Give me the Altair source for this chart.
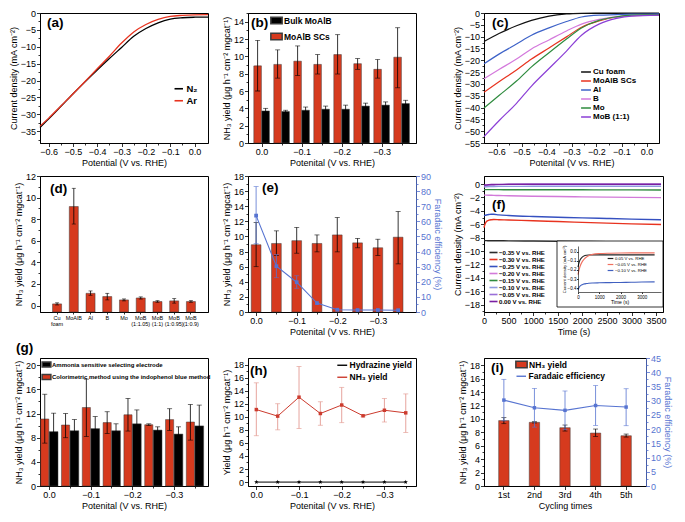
import altair as alt
import pandas as pd

FONT = "Liberation Sans"
RED = "#d63a1e"
EDGE = "#3c3c3c"
BLUE = "#5774d1"
RECT = "M-1.6,-0.9H1.6V0.9H-1.6Z"
LINE = "M-1.8,0H1.8"
STAR = "M0,-1L0.22,-0.31L0.95,-0.31L0.36,0.12L0.59,0.81L0,0.38L-0.59,0.81L-0.36,0.12L-0.95,-0.31L-0.22,-0.31Z"

# ---------------- (a) LSV in N2 / Ar ----------------
a_pot = [-0.635, -0.6, -0.55, -0.5, -0.45, -0.4, -0.35, -0.3, -0.25, -0.2, -0.15, -0.1, -0.05, 0.0, 0.055]
a_n2 = [-33.9, -31.4, -27.7, -24.0, -20.4, -16.9, -13.5, -10.2, -6.9, -4.6, -2.9, -1.8, -1.4, -1.25, -1.2]
a_ar = [-33.5, -31.2, -27.6, -24.0, -20.3, -16.5, -12.8, -8.9, -5.6, -3.4, -1.9, -1.0, -0.7, -0.55, -0.5]
a_series = ["N₂", "Ar"]

# ---------------- (c) LSV of samples ----------------
c_pot = [-0.65, -0.59, -0.52, -0.46, -0.39, -0.32, -0.26, -0.19, -0.12, -0.06, 0.05]
c_names = ["Cu foam", "MoAlB SCs", "Al", "B", "Mo", "MoB (1:1)"]
c_cu = [-12.1, -8.7, -5.4, -3.1, -1.3, -0.4, -0.15, -0.08, -0.05, -0.04, -0.03]
c_moalb = [-33.5, -29.1, -24.1, -19.5, -14.8, -10.1, -6.0, -3.4, -1.7, -1.1, -0.9]
c_al = [-21.5, -17.4, -13.1, -9.4, -6.3, -3.6, -1.7, -0.9, -0.7, -0.5, -0.4]
c_b = [-27.8, -23.9, -19.5, -15.2, -11.4, -7.6, -4.7, -2.7, -1.6, -1.1, -0.7]
c_mo = [-40.2, -34.9, -28.8, -22.8, -16.8, -11.0, -6.3, -3.1, -1.6, -0.9, -0.7]
c_mob = [-52.3, -45.6, -38.2, -30.9, -23.5, -16.1, -9.4, -4.7, -2.3, -1.3, -0.9]
c_colors = ["#111111", "#e8331f", "#3e63c8", "#d479dc", "#2e8b3e", "#8b3fd6"]

# ---------------- (b)/(e) NH3 yield vs potential ----------------
pots = [0.0, -0.05, -0.1, -0.15, -0.2, -0.25, -0.3, -0.35]
scs_mean = [8.9, 9.07, 9.44, 9.07, 10.2, 9.15, 8.5, 9.9]
scs_lo = [6.0, 7.48, 7.78, 7.96, 7.96, 8.5, 7.48, 6.37]
scs_hi = [11.85, 10.74, 11.2, 10.2, 12.5, 9.74, 9.63, 13.3]
bulk_mean = [3.7, 3.63, 3.78, 3.9, 3.9, 4.26, 4.37, 4.55]
bulk_lo = [3.4, 3.48, 3.41, 3.54, 3.43, 3.92, 4.0, 4.17]
bulk_hi = [4.0, 3.78, 4.15, 4.26, 4.37, 4.6, 4.74, 4.93]
b_series = ["Bulk MoAlB", "MoAlB SCs"]
fe_mean = [63.8, 30.3, 19.7, 5.9, 1.5, 1.3, 1.3, 1.2]
fe_lo = [45.2, 22.7, 15.7, 5.9, 1.5, 1.3, 1.3, 1.2]
fe_hi = [83.0, 38.0, 24.0, 5.9, 1.5, 1.3, 1.3, 1.2]

# ---------------- (d) control samples ----------------
d_cats = ["Cu foam", "MoAlB", "Al", "B", "Mo", "MoB (1:1.05)", "MoB (1:1)", "MoB (1:0.95)", "MoB (1:0.9)"]
d_mean = [0.15, 9.17, 1.13, 0.83, 0.52, 0.7, 0.37, 0.43, 0.37]
d_lo = [0.05, 7.55, 0.95, 0.52, 0.43, 0.6, 0.3, 0.22, 0.3]
d_hi = [0.25, 10.86, 1.35, 1.13, 0.61, 0.8, 0.45, 0.64, 0.45]

# ---------------- (f) chronoamperometry ----------------
f_t = [0, 20, 50, 100, 150, 200, 300, 500, 1000, 1500, 2000, 2500, 3000, 3600]
f_names = ["−0.35 V vs. RHE", "−0.30 V vs. RHE", "−0.25 V vs. RHE", "−0.20 V vs. RHE",
           "−0.15 V vs. RHE", "−0.10 V vs. RHE", "−0.05 V vs. RHE", "0.00 V vs. RHE"]
f_035 = [-8.45, -8.45, -8.45, -8.46, -8.46, -8.46, -8.47, -8.48, -8.51, -8.54, -8.57, -8.6, -8.62, -8.66]
f_030 = [-6.5, -6.0, -5.6, -5.4, -5.33, -5.3, -5.32, -5.37, -5.47, -5.6, -5.72, -5.84, -5.94, -6.05]
f_025 = [-4.72, -4.68, -4.62, -4.55, -4.5, -4.52, -4.6, -4.7, -4.85, -4.95, -5.05, -5.14, -5.23, -5.33]
f_020 = [-1.65, -1.65, -1.66, -1.67, -1.68, -1.69, -1.71, -1.75, -1.82, -1.87, -1.91, -1.95, -1.99, -2.03]
f_015 = [-0.84, -0.84, -0.84, -0.84, -0.84, -0.84, -0.84, -0.85, -0.85, -0.86, -0.86, -0.87, -0.87, -0.88]
f_010 = [-0.45, -0.42, -0.4, -0.38, -0.37, -0.36, -0.35, -0.35, -0.34, -0.34, -0.34, -0.33, -0.33, -0.33]
f_005 = [-0.25, -0.23, -0.2, -0.16, -0.13, -0.11, -0.08, -0.05, -0.03, -0.02, -0.02, -0.02, -0.02, -0.02]
f_000 = [-0.17, -0.15, -0.12, -0.09, -0.07, -0.06, -0.05, -0.04, -0.04, -0.04, -0.04, -0.04, -0.04, -0.04]
f_colors = ["#2b2b2b", "#e8331f", "#3550c0", "#d27ad9", "#2e8b3e", "#8f9be0", "#9a6fd8", "#7b1fa2"]
# inset
in_t = [0, 50, 100, 200, 300, 400, 500, 700, 1000, 1500, 2000, 2500, 3000, 3600]
in_names = ["0.05 V vs. RHE", "−0.05 V vs. RHE", "−0.10 V vs. RHE"]
in_p005 = [-0.17, -0.12, -0.09, -0.06, -0.045, -0.04, -0.038, -0.037, -0.037, -0.037, -0.037, -0.037, -0.037, -0.037]
in_m005 = [-0.25, -0.2, -0.16, -0.11, -0.08, -0.06, -0.045, -0.03, -0.022, -0.018, -0.016, -0.015, -0.015, -0.015]
in_m010 = [-0.42, -0.39, -0.375, -0.36, -0.352, -0.348, -0.345, -0.342, -0.34, -0.338, -0.336, -0.334, -0.332, -0.33]
in_colors = ["#222222", "#f07060", "#4060c0"]

# ---------------- (g)/(h) two detection methods ----------------
col_mean = [11.1, 10.1, 13.0, 10.5, 11.8, 10.15, 11.0, 10.6]
col_lo = [7.1, 8.0, 8.2, 8.7, 9.1, 10.0, 9.2, 7.6]
col_hi = [15.2, 12.0, 17.7, 12.3, 14.5, 10.3, 12.8, 13.5]
ise_mean = [9.0, 9.15, 9.5, 9.15, 10.3, 9.26, 8.6, 9.95]
ise_lo = [5.94, 7.3, 7.5, 8.0, 8.0, 8.72, 7.4, 6.5]
ise_hi = [12.06, 11.0, 11.5, 10.3, 12.6, 9.8, 9.8, 13.4]
g_series = ["Ammonia sensitive selecting electrode", "Colorimetric method using the indophenol blue method"]
hyd_mean = [0.0, 0.0, 0.0, 0.0, 0.0, 0.0, 0.0, 0.0]
h_series = ["Hydrazine yield", "NH₃ yield"]

# ---------------- (i) cycling ----------------
i_cycles = ["1st", "2nd", "3rd", "4th", "5th"]
i_mean = [9.76, 9.5, 8.7, 7.9, 7.5]
i_lo = [9.3, 9.4, 8.2, 7.4, 7.3]
i_hi = [10.2, 9.6, 9.1, 8.5, 7.75]
i_fe = [30.2, 27.5, 26.6, 28.3, 27.75]
i_fe_lo = [22.9, 20.7, 19.8, 21.3, 21.2]
i_fe_hi = [37.5, 34.3, 33.4, 35.3, 34.2]
i_series = ["NH₃ yield", "Faradaic efficiency"]

# tick value lists
pot_full = [-0.6, -0.55, -0.5, -0.45, -0.4, -0.35, -0.3, -0.25, -0.2, -0.15, -0.1, -0.05, 0.0]
pot_ticks = [0.0, -0.05, -0.1, -0.15, -0.2, -0.25, -0.3, -0.35]

W1, W2, WC, WF, WI = 168, 168, 175, 179, 162
H1, H2, H3 = 130, 136, 128

YT = "NH₃ yield (μg h⁻¹ cm⁻² mgcat⁻¹)"
XT = "Potenital (V vs. RHE)"


def major(step):
    return f"abs(datum.value / {step} - round(datum.value / {step})) < 0.001"


def axis(title, values, step, fmt="d", **kw):
    t = major(step)
    d = dict(title=title, values=values, labelExpr=f"({t}) ? datum.label : ''",
             tickSize={"condition": {"test": t, "value": 3.5}, "value": 2},
             labelOverlap=False, format=fmt)
    d.update(kw)
    return alt.Axis(**d)


def qscale(lo, hi, reverse=False, **kw):
    if reverse:
        return alt.Scale(domain=[lo, hi], nice=False, zero=False, reverse=True, **kw)
    return alt.Scale(domain=[lo, hi], nice=False, zero=False, **kw)


def plabel(txt, x, y, size=13.5):
    return alt.Chart(pd.DataFrame({"t": [txt]})).mark_text(
        align="left", baseline="top", font=FONT, fontSize=size, fontWeight="bold", color="black"
    ).encode(text="t:N", x=alt.value(x), y=alt.value(y))


def lg(x, y, **kw):
    d = dict(title=None, orient="none", legendX=x, legendY=y, labelFontWeight="bold",
             labelFont=FONT, labelFontSize=8.5, rowPadding=1.5, labelColor="black", labelLimit=300,
             labelOffset=3)
    d.update(kw)
    return alt.Legend(**d)


# ============ (a) ============
n = len(a_pot)
df_a = pd.DataFrame({"p": a_pot + a_pot, "j": a_n2 + a_ar, "s": [a_series[0]] * n + [a_series[1]] * n})
pa = alt.layer(
    alt.Chart(df_a).mark_line(strokeWidth=1.3, interpolate="monotone").encode(
        x=alt.X("p:Q", scale=qscale(-0.635, 0.055), axis=axis("Potential (V vs. RHE)", pot_full, 0.1, ".1f")),
        y=alt.Y("j:Q", scale=qscale(-38.5, 0), axis=axis("Current density (mA cm⁻²)", [-2.5 * k for k in range(0, 16)], 5)),
        color=alt.Color("s:N", scale=alt.Scale(domain=a_series, range=["#000000", "#e8331f"]),
                        legend=lg(134, 71, symbolType=LINE, symbolSize=22, symbolStrokeWidth=1.6,
                                  labelFontSize=9.5, rowPadding=1)),
    ),
    plabel("(a)", 7, 3),
).properties(width=W1, height=H1)

# ============ (b) ============
df_b = pd.DataFrame({"p": pots + pots, "s": ["MoAlB SCs"] * 8 + ["Bulk MoAlB"] * 8,
                     "v": scs_mean + bulk_mean, "lo": scs_lo + bulk_lo, "hi": scs_hi + bulk_hi})
sx_b = qscale(-0.386, 0.034, reverse=True)
sy_b = qscale(0, 15)
ax_b = axis(XT, pot_ticks, 0.1, ".1f")
ay_b = axis(YT, list(range(0, 16)), 2)
base_b = alt.Chart(df_b).transform_calculate(
    x1="datum.p + (datum.s == 'MoAlB SCs' ? 0.0195 : -0.0005)",
    x2="datum.p + (datum.s == 'MoAlB SCs' ? 0.0005 : -0.0195)",
    xc="datum.p + (datum.s == 'MoAlB SCs' ? 0.01 : -0.01)",
)
Xb = lambda f: alt.X(f, scale=sx_b, axis=ax_b)
Yb = lambda f: alt.Y(f, scale=sy_b, axis=ay_b)
pb = alt.layer(
    base_b.mark_bar(stroke=EDGE, strokeWidth=0.5).encode(
        x=Xb("x1:Q"), x2="x2:Q", y=Yb("v:Q"), y2=alt.datum(0),
        fill=alt.Fill("s:N", scale=alt.Scale(domain=b_series, range=["#000000", RED]),
                      legend=lg(24, 3, symbolType=RECT, symbolSize=50, rowPadding=3)),
    ),
    base_b.mark_rule(color="black", strokeWidth=0.8).encode(x=Xb("xc:Q"), y=Yb("lo:Q"), y2="hi:Q"),
    base_b.mark_tick(orient="horizontal", size=5, thickness=0.8, color="black").encode(x=Xb("xc:Q"), y=Yb("hi:Q")),
    base_b.mark_tick(orient="horizontal", size=5, thickness=0.8, color="black").encode(x=Xb("xc:Q"), y=Yb("lo:Q")),
    plabel("(b)", 3, 3),
).properties(width=W2, height=H1)

# ============ (c) ============
m = len(c_pot)
c_all = [c_cu, c_moalb, c_al, c_b, c_mo, c_mob]
df_c = pd.DataFrame({"p": c_pot * 6, "j": sum(c_all, []), "s": sum([[nm] * m for nm in c_names], [])})
pc = alt.layer(
    alt.Chart(df_c).mark_line(strokeWidth=1.2, interpolate="monotone").encode(
        x=alt.X("p:Q", scale=qscale(-0.65, 0.05), axis=axis(XT, pot_full, 0.1, ".1f")),
        y=alt.Y("j:Q", scale=qscale(-55, 0), axis=axis("Current density (mA cm⁻²)", [-2.5 * k for k in range(0, 23)], 5)),
        color=alt.Color("s:N", scale=alt.Scale(domain=c_names, range=c_colors),
                        legend=lg(98, 55, symbolType=LINE, symbolSize=30, symbolStrokeWidth=1.5,
                                  labelFontSize=8, rowPadding=1)),
    ),
    plabel("(c)", 8, 3),
).properties(width=WC, height=H1)

# ============ (d) ============
df_d = pd.DataFrame({"c": d_cats, "v": d_mean, "lo": d_lo, "hi": d_hi})
sy_d = qscale(-0.6, 12)
ay_d = axis(YT, [k * 0.5 for k in range(0, 25)], 2)
xd = alt.X("c:N", sort=d_cats, scale=alt.Scale(paddingInner=0.46, paddingOuter=0.75),
           axis=alt.Axis(title=None, labelAngle=0, labelFontSize=5.5, labelExpr="split(datum.label, ' ')",
                         labelLineHeight=6.5, tickSize=2, labelPadding=1))
Yd = lambda f: alt.Y(f, scale=sy_d, axis=ay_d)
base_d = alt.Chart(df_d)
pdd = alt.layer(
    base_d.mark_bar(fill=RED, stroke=EDGE, strokeWidth=0.5).encode(x=xd, y=Yd("v:Q"), y2=alt.datum(-0.6)),
    base_d.mark_rule(color="black", strokeWidth=0.8).encode(x=xd, y=Yd("lo:Q"), y2="hi:Q"),
    base_d.mark_tick(orient="horizontal", size=4, thickness=0.8, color="black").encode(x=xd, y=Yd("hi:Q")),
    base_d.mark_tick(orient="horizontal", size=4, thickness=0.8, color="black").encode(x=xd, y=Yd("lo:Q")),
    plabel("(d)", 10, 6),
).properties(width=W1, height=H2)

# ============ (e) ============
df_e = pd.DataFrame({"p": pots, "v": scs_mean, "lo": scs_lo, "hi": scs_hi,
                     "fe": fe_mean, "fe_lo": fe_lo, "fe_hi": fe_hi})
sx_e = qscale(-0.394, 0.02, reverse=True)
ax_e = axis(XT, pot_ticks, 0.1, ".1f")
sy_e = qscale(0, 18)
ay_e = axis(YT, list(range(0, 19)), 2)
sy_e2 = qscale(0, 90)
ay_e2 = axis("Faradaic efficiency (%)", list(range(0, 91, 5)), 10, orient="right", titleColor=BLUE,
             labelColor=BLUE, tickColor=BLUE, domainColor=BLUE)
base_e = alt.Chart(df_e).transform_calculate(x1="datum.p + 0.012", x2="datum.p - 0.012")
Xe = lambda f: alt.X(f, scale=sx_e, axis=ax_e)
Ye = lambda f: alt.Y(f, scale=sy_e, axis=ay_e)
Ye2 = lambda f: alt.Y(f, scale=sy_e2, axis=ay_e2)
left_e = alt.layer(
    base_e.mark_bar(fill=RED, stroke=EDGE, strokeWidth=0.5).encode(x=Xe("x1:Q"), x2="x2:Q", y=Ye("v:Q"), y2=alt.datum(0)),
    base_e.mark_rule(color="black", strokeWidth=0.8).encode(x=Xe("p:Q"), y=Ye("lo:Q"), y2="hi:Q"),
    base_e.mark_tick(orient="horizontal", size=5, thickness=0.8, color="black").encode(x=Xe("p:Q"), y=Ye("hi:Q")),
    base_e.mark_tick(orient="horizontal", size=5, thickness=0.8, color="black").encode(x=Xe("p:Q"), y=Ye("lo:Q")),
)
base_e2 = alt.Chart(df_e)
right_e = alt.layer(
    base_e2.transform_filter("datum.fe_hi > datum.fe_lo").mark_rule(color=BLUE, strokeWidth=0.8).encode(
        x=Xe("p:Q"), y=Ye2("fe_lo:Q"), y2="fe_hi:Q"),
    base_e2.transform_filter("datum.fe_hi > datum.fe_lo").mark_tick(orient="horizontal", size=5, thickness=0.8, color=BLUE).encode(
        x=Xe("p:Q"), y=Ye2("fe_hi:Q")),
    base_e2.transform_filter("datum.fe_hi > datum.fe_lo").mark_tick(orient="horizontal", size=5, thickness=0.8, color=BLUE).encode(
        x=Xe("p:Q"), y=Ye2("fe_lo:Q")),
    base_e2.mark_line(color=BLUE, strokeWidth=1.1).encode(x=Xe("p:Q"), y=Ye2("fe:Q")),
    base_e2.mark_point(shape="square", filled=True, size=14, color=BLUE, opacity=1).encode(x=Xe("p:Q"), y=Ye2("fe:Q")),
)
pe = alt.layer(left_e, right_e, plabel("(e)", 14, 5)).resolve_scale(y="independent").properties(width=W2, height=H2)

# ============ (f) ============
k = len(f_t)
f_all = [f_035, f_030, f_025, f_020, f_015, f_010, f_005, f_000]
df_f = pd.DataFrame({"t": f_t * 8, "j": sum(f_all, []), "s": sum([[nm] * k for nm in f_names], [])})
ki = len(in_t)
in_all = [in_p005, in_m005, in_m010]
df_in = pd.DataFrame({"t": in_t * 3, "j": sum(in_all, []), "s": sum([[nm] * ki for nm in in_names], [])})

main_f = alt.Chart(df_f).mark_line(strokeWidth=1.4, interpolate="monotone").encode(
    x=alt.X("t:Q", scale=qscale(0, 3640), axis=axis("Time (s)", list(range(0, 3501, 250)), 500)),
    y=alt.Y("j:Q", scale=qscale(-19.1, 1.2), axis=axis("Current density (mA cm⁻²)", list(range(0, -20, -1)), 2)),
    color=alt.Color("s:N", scale=alt.Scale(domain=f_names, range=f_colors),
                    legend=lg(6, 73, symbolType=LINE, symbolSize=20, symbolStrokeWidth=1.6,
                              labelFontSize=6.1, rowPadding=0, labelOffset=2)),
)
ix0, ix1 = 94, 177
iy0, iy1 = 116, 70
box_f = alt.Chart(pd.DataFrame({"b": [1]})).mark_rect(fill="white", stroke="black", strokeWidth=0.8).encode(
    x=alt.value(73), x2=alt.value(WF), y=alt.value(65), y2=alt.value(131))
inset_f = alt.Chart(df_in).mark_line(strokeWidth=1.1, interpolate="monotone").encode(
    x=alt.X("t:Q", scale=alt.Scale(domain=[0, 3900], range=[ix0, ix1], nice=False, zero=False),
            axis=alt.Axis(orient="bottom", offset=iy0 - H2, values=[0, 1000, 2000, 3000], format="d",
                          title="Time (s)", labelFontSize=4.5, titleFontSize=5, tickSize=1.5, labelPadding=0.5,
                          titlePadding=0.5, zindex=1, labelFlush=False, labelOverlap=False, domainWidth=0.6)),
    y=alt.Y("j:Q", scale=alt.Scale(domain=[-0.44, 0.06], range=[iy0, iy1], nice=False, zero=False),
            axis=alt.Axis(orient="left", offset=-ix0, values=[0.0, -0.1, -0.2, -0.3, -0.4], format=".1f",
                          title="Current density (mA cm⁻²)", labelFontSize=4.5, titleFontSize=4.2, tickSize=1.5,
                          labelPadding=0.5, titlePadding=0.5, zindex=1, domainWidth=0.6)),
    stroke=alt.Stroke("s:N", scale=alt.Scale(domain=in_names, range=in_colors),
                      legend=lg(124, 80, symbolType=LINE, symbolSize=10, symbolStrokeWidth=1.2,
                                labelFontSize=4.3, rowPadding=1, labelFontWeight="normal", labelOffset=2)),
)
pf = alt.layer(main_f, box_f, inset_f, plabel("(f)", 8, 22)).resolve_scale(
    x="independent", y="independent").properties(width=WF, height=H2)

# ============ (g) ============
df_g = pd.DataFrame({"p": pots + pots, "s": [g_series[1]] * 8 + [g_series[0]] * 8,
                     "v": col_mean + ise_mean, "lo": col_lo + ise_lo, "hi": col_hi + ise_hi})
sx_g = qscale(-0.382, 0.0217, reverse=True)
ax_g = axis(XT, pot_ticks, 0.1, ".1f")
sy_g = qscale(0, 21.2)
ay_g = axis(YT, list(range(0, 21, 2)), 4)
base_g = alt.Chart(df_g).transform_calculate(
    x1="datum.p + (datum.s == '%s' ? 0.0201 : -0.0005)" % g_series[1],
    x2="datum.p + (datum.s == '%s' ? 0.0005 : -0.0215)" % g_series[1],
    xc="datum.p + (datum.s == '%s' ? 0.0103 : -0.011)" % g_series[1],
)
Xg = lambda f: alt.X(f, scale=sx_g, axis=ax_g)
Yg = lambda f: alt.Y(f, scale=sy_g, axis=ay_g)
pg = alt.layer(
    base_g.mark_bar(stroke=EDGE, strokeWidth=0.5).encode(
        x=Xg("x1:Q"), x2="x2:Q", y=Yg("v:Q"), y2=alt.datum(0),
        fill=alt.Fill("s:N", scale=alt.Scale(domain=g_series, range=["#000000", RED]),
                      legend=lg(3, 3, symbolType=RECT, symbolSize=30, labelFontSize=6.0, rowPadding=1.5,
                                labelOffset=2)),
    ),
    base_g.mark_rule(color="black", strokeWidth=0.8).encode(x=Xg("xc:Q"), y=Yg("lo:Q"), y2="hi:Q"),
    base_g.mark_tick(orient="horizontal", size=5, thickness=0.8, color="black").encode(x=Xg("xc:Q"), y=Yg("hi:Q")),
    base_g.mark_tick(orient="horizontal", size=5, thickness=0.8, color="black").encode(x=Xg("xc:Q"), y=Yg("lo:Q")),
    plabel("(g)", -24, -17),
).properties(width=W1, height=H3)

# ============ (h) ============
df_h = pd.DataFrame({"p": pots + pots, "s": [h_series[1]] * 8 + [h_series[0]] * 8,
                     "v": col_mean + hyd_mean, "lo": col_lo + hyd_mean, "hi": col_hi + hyd_mean})
sx_h = qscale(-0.374, 0.0195, reverse=True)
ax_h = axis(XT, pot_ticks, 0.1, ".1f")
sy_h = qscale(-0.6, 19)
ay_h = axis("Yield (μg h⁻¹ cm⁻² mgcat⁻¹)", list(range(0, 19)), 2)
Xh = lambda f: alt.X(f, scale=sx_h, axis=ax_h)
Yh = lambda f: alt.Y(f, scale=sy_h, axis=ay_h)
base_h = alt.Chart(df_h)
nh3_h = base_h.transform_filter(alt.datum.s == h_series[1])
hyd_h = base_h.transform_filter(alt.datum.s == h_series[0])
h_col = alt.Color("s:N", scale=alt.Scale(domain=h_series, range=["#000000", "#cc3b2e"]),
                  legend=lg(90, 3, symbolType=LINE, symbolSize=30, symbolStrokeWidth=1.4, rowPadding=3))
ph = alt.layer(
    nh3_h.mark_rule(color="#e39a92", strokeWidth=0.9).encode(x=Xh("p:Q"), y=Yh("lo:Q"), y2="hi:Q"),
    nh3_h.mark_tick(orient="horizontal", size=5, thickness=0.9, color="#e39a92").encode(x=Xh("p:Q"), y=Yh("hi:Q")),
    nh3_h.mark_tick(orient="horizontal", size=5, thickness=0.9, color="#e39a92").encode(x=Xh("p:Q"), y=Yh("lo:Q")),
    base_h.mark_line(strokeWidth=1.0).encode(x=Xh("p:Q"), y=Yh("v:Q"), color=h_col),
    nh3_h.mark_point(shape="square", filled=True, size=12, color="#cc3b2e", opacity=1).encode(x=Xh("p:Q"), y=Yh("v:Q")),
    hyd_h.mark_point(shape=STAR, filled=True, size=22, color="black", opacity=1).encode(x=Xh("p:Q"), y=Yh("v:Q")),
    plabel("(h)", 2, 6),
).properties(width=W2, height=H3)

# ============ (i) ============
df_i = pd.DataFrame({"c": i_cycles, "v": i_mean, "lo": i_lo, "hi": i_hi,
                     "fe": i_fe, "fe_lo": i_fe_lo, "fe_hi": i_fe_hi,
                     "s1": [i_series[0]] * 5, "s2": [i_series[1]] * 5})
xi = alt.X("c:N", sort=i_cycles, scale=alt.Scale(paddingInner=0.66, paddingOuter=0.48),
           axis=alt.Axis(title="Cycling times", labelAngle=0, tickSize=3.5, labelFontSize=9))
sy_i = qscale(0, 19.1)
ay_i = axis(YT, list(range(0, 19)), 2)
sy_i2 = qscale(0, 45)
ay_i2 = axis("Faradaic efficiency (%)", [2.5 * q for q in range(0, 19)], 5, orient="right", titleColor=BLUE,
             labelColor=BLUE, tickColor=BLUE, domainColor=BLUE)
Yi = lambda f: alt.Y(f, scale=sy_i, axis=ay_i)
Yi2 = lambda f: alt.Y(f, scale=sy_i2, axis=ay_i2)
base_i = alt.Chart(df_i)
left_i = alt.layer(
    base_i.mark_bar(stroke=EDGE, strokeWidth=0.5).encode(
        x=xi, y=Yi("v:Q"), y2=alt.datum(0),
        fill=alt.Fill("s1:N", scale=alt.Scale(domain=[i_series[0]], range=[RED]),
                      legend=lg(33, 2, symbolType=RECT, symbolSize=50))),
    base_i.mark_rule(color="black", strokeWidth=0.8).encode(x=xi, y=Yi("lo:Q"), y2="hi:Q"),
    base_i.mark_tick(orient="horizontal", size=5, thickness=0.8, color="black").encode(x=xi, y=Yi("hi:Q")),
    base_i.mark_tick(orient="horizontal", size=5, thickness=0.8, color="black").encode(x=xi, y=Yi("lo:Q")),
)
right_i = alt.layer(
    base_i.mark_rule(color=BLUE, strokeWidth=0.8).encode(x=xi, y=Yi2("fe_lo:Q"), y2="fe_hi:Q"),
    base_i.mark_tick(orient="horizontal", size=5, thickness=0.8, color=BLUE).encode(x=xi, y=Yi2("fe_hi:Q")),
    base_i.mark_tick(orient="horizontal", size=5, thickness=0.8, color=BLUE).encode(x=xi, y=Yi2("fe_lo:Q")),
    base_i.mark_line(strokeWidth=1.1).encode(
        x=xi, y=Yi2("fe:Q"),
        stroke=alt.Stroke("s2:N", scale=alt.Scale(domain=[i_series[1]], range=[BLUE]),
                          legend=lg(33, 14, symbolType=LINE, symbolSize=28, symbolStrokeWidth=1.4))),
    base_i.mark_point(shape="square", filled=True, size=12, color=BLUE, opacity=1).encode(x=xi, y=Yi2("fe:Q")),
)
pi = alt.layer(left_i, right_i, plabel("(i)", 7, 3)).resolve_scale(y="independent").properties(width=WI, height=H3)

chart = alt.concat(
    pa, pb, pc, pdd, pe, pf, pg, ph, pi,
    columns=3, spacing={"row": 3, "column": 9}, align="each",
).resolve_scale(
    x="independent", y="independent", color="independent", fill="independent", stroke="independent"
).properties(
    padding=0
).configure(
    font=FONT
).configure_view(
    stroke="black", strokeWidth=1
).configure_axis(
    labelFont=FONT, titleFont=FONT, labelFontSize=9, titleFontSize=9, titleFontWeight="normal",
    labelColor="black", titleColor="black", tickColor="black", domainColor="black",
    grid=False, labelPadding=1, titlePadding=2, tickWidth=0.8, domainWidth=0.8, labelFlush=False
).configure_legend(
    labelFont=FONT, padding=0
)

chart.save("out.html", embed_options={"renderer": "svg", "actions": False})
